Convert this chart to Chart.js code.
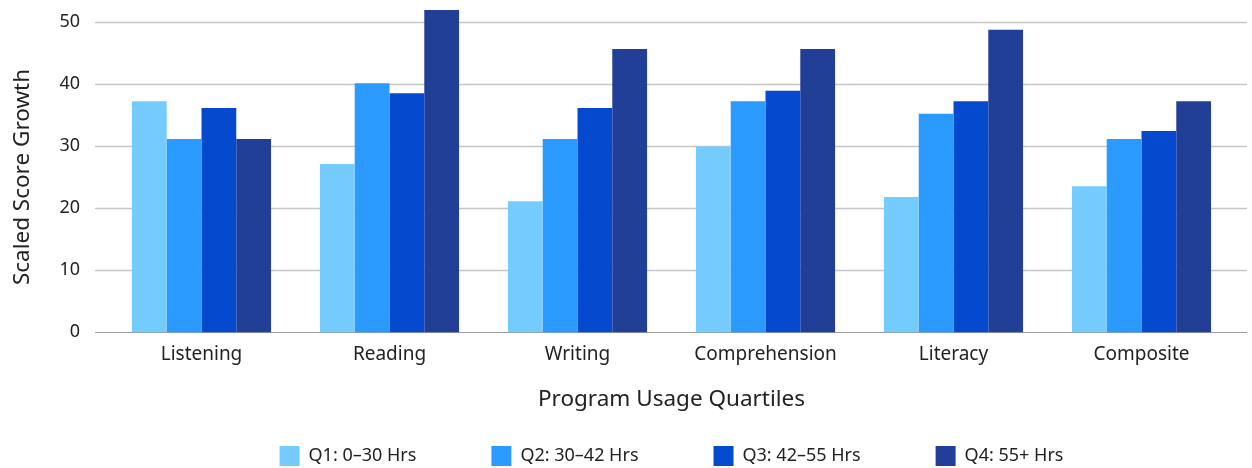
<!DOCTYPE html>
<html>
<head>
<meta charset="utf-8">
<script src="https://cdn.jsdelivr.net/npm/chart.js@4"></script>
<style>
  html, body { margin: 0; padding: 0; background: #fff; }
  #wrap { width: 1252px; height: 468px; }
</style>
</head>
<body>
<div id="wrap"><canvas id="chart"></canvas></div>
<script>
const categories = ['Listening', 'Reading', 'Writing', 'Comprehension', 'Literacy', 'Composite'];
const seriesNames = ['Q1: 0–30 Hrs', 'Q2: 30–42 Hrs', 'Q3: 42–55 Hrs', 'Q4: 55+ Hrs'];
const q1 = [37.2, 27.1, 21.1, 29.9, 21.8, 23.5];
const q2 = [31.1, 40.1, 31.1, 37.2, 35.2, 31.1];
const q3 = [36.1, 38.5, 36.1, 38.9, 37.2, 32.4];
const q4 = [31.1, 51.9, 45.6, 45.6, 48.7, 37.2];
const colors = ['#74cbfd', '#2b9afe', '#0549ce', '#223f98'];

const FONT = "'Noto Sans', sans-serif";
const TEXT = '#222222';

// horizontal grid lines, drawn a bit wider than the plot area
const gridLines = {
    id: 'gridLines',
    beforeDatasetsDraw(chart) {
        const { ctx, chartArea, scales: { y } } = chart;
        ctx.save();
        y.ticks.forEach(t => {
            const py = Math.round(y.getPixelForValue(t.value)) + 0.5;
            ctx.strokeStyle = t.value === 0 ? '#9c9c9c' : '#c6c6c6';
            ctx.lineWidth = t.value === 0 ? 1 : 1.5;
            ctx.beginPath();
            ctx.moveTo(chartArea.left - 12.5, py);
            ctx.lineTo(chartArea.right + 11.5, py);
            ctx.stroke();
        });
        ctx.restore();
    }
};

const datasets = [q1, q2, q3, q4].map((vals, i) => ({
    label: seriesNames[i],
    data: vals,
    backgroundColor: colors[i],
    borderWidth: 0,
    clip: false
}));

new Chart(document.getElementById('chart'), {
    type: 'bar',
    data: { labels: categories, datasets },
    plugins: [gridLines],
    options: {
        responsive: true,
        maintainAspectRatio: false,
        animation: false,
        layout: { padding: { top: 21.7, right: 16.5, left: 0, bottom: -8 } },
        datasets: { bar: { barPercentage: 1, categoryPercentage: 0.74 } },
        scales: {
            x: {
                grid: { display: false, drawTicks: false },
                border: { display: false },
                ticks: { color: TEXT, font: { family: FONT, size: 19 }, padding: 11.3 },
                title: {
                    display: true,
                    text: 'Program Usage Quartiles',
                    color: TEXT,
                    font: { family: FONT, size: 22.5 },
                    padding: { top: 8.3, bottom: -42 }
                }
            },
            y: {
                min: 0,
                max: 50,
                afterFit(scale) { scale.width = 107.5; },
                grid: { display: false, drawTicks: true, tickLength: 24 },
                border: { display: false },
                ticks: { stepSize: 10, color: TEXT, font: { family: FONT, size: 18 }, padding: 3.5 },
                title: {
                    display: true,
                    text: 'Scaled Score Growth',
                    color: TEXT,
                    font: { family: FONT, size: 22.5 },
                    padding: { top: 9, bottom: 0 }
                }
            }
        },
        plugins: {
            tooltip: { enabled: false },
            legend: {
                position: 'bottom',
                fullSize: false,
                labels: {
                    boxWidth: 20,
                    boxHeight: 20,
                    padding: 75,
                    color: TEXT,
                    font: { family: FONT, size: 18 }
                }
            }
        }
    }
});
</script>
</body>
</html>
